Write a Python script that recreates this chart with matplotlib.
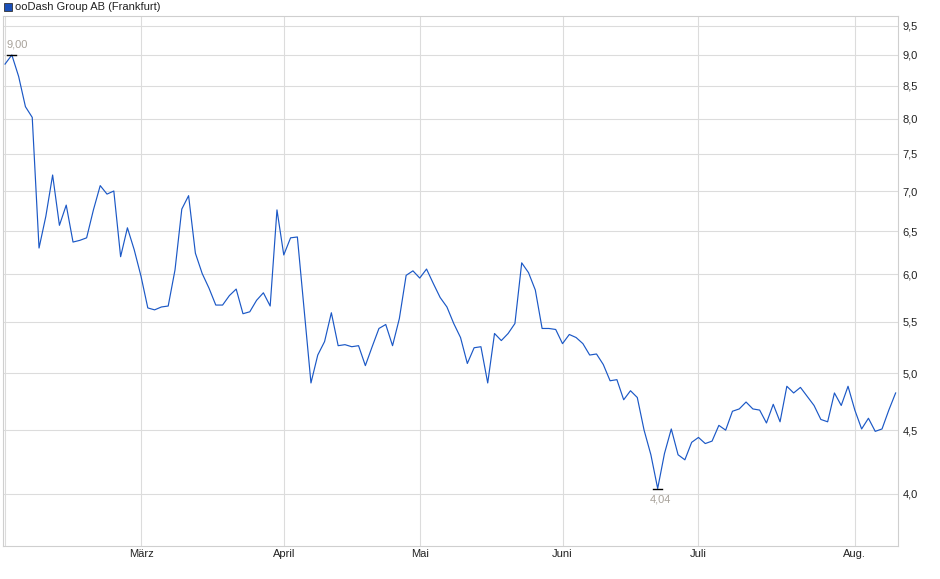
import numpy as np
import matplotlib
matplotlib.use("Agg")
import matplotlib.pyplot as plt
from matplotlib.ticker import FixedLocator, NullLocator
from matplotlib.patches import Rectangle

plt.rcParams['font.family'] = ['Liberation Sans', 'DejaVu Sans']

# daily closing prices (one value per trading day)
prices = [
    8.85, 9.00, 8.65, 8.18, 8.02, 6.30, 6.68, 7.21, 6.57, 6.82,
    6.37, 6.39, 6.42, 6.76, 7.07, 6.96, 7.00, 6.20, 6.54, 6.28,
    5.98, 5.64, 5.62, 5.65, 5.66, 6.05, 6.77, 6.94, 6.24, 6.01,
    5.85, 5.67, 5.67, 5.77, 5.84, 5.58, 5.60, 5.72, 5.80, 5.66,
    6.76, 6.22, 6.42, 6.43, 5.62, 4.91, 5.17, 5.30, 5.59, 5.26,
    5.27, 5.25, 5.26, 5.07, 5.25, 5.43, 5.47, 5.26, 5.53, 5.99,
    6.04, 5.96, 6.06, 5.90, 5.75, 5.65, 5.48, 5.34, 5.09, 5.24,
    5.25, 4.91, 5.38, 5.31, 5.38, 5.48, 6.13, 6.02, 5.83, 5.43,
    5.43, 5.42, 5.28, 5.37, 5.34, 5.28, 5.17, 5.18, 5.08, 4.93,
    4.94, 4.76, 4.84, 4.78, 4.50, 4.30, 4.04, 4.31, 4.51, 4.30,
    4.26, 4.40, 4.44, 4.39, 4.41, 4.54, 4.50, 4.66, 4.68, 4.74,
    4.68, 4.67, 4.56, 4.72, 4.57, 4.88, 4.82, 4.87, 4.79, 4.71,
    4.59, 4.57, 4.82, 4.71, 4.88, 4.67, 4.51, 4.60, 4.49, 4.51,
    4.67, 4.82,
]

# index of the first trading day of each month
month_idx = [0, 20, 41, 61, 82, 102, 125]
month_labels = ['', 'März', 'April', 'Mai', 'Juni', 'Juli', 'Aug.']

y_ticks = [4.0, 4.5, 5.0, 5.5, 6.0, 6.5, 7.0, 7.5, 8.0, 8.5, 9.0, 9.5]
title = 'ooDash Group AB (Frankfurt)'

line_color = '#1b58c6'
grid_color = '#dcdcdc'
label_grey = '#a8a29a'

x = np.arange(len(prices))
fig = plt.figure(figsize=(9.40, 5.79), dpi=100)
ax = fig.add_axes([3 / 940, 33 / 579, 895 / 940, 530 / 579])

ax.plot(x, prices, color=line_color, linewidth=0.85, zorder=3)

ax.set_yscale('log')
ax.set_ylim(3.633, 9.672)
ax.set_xlim(-0.3, len(prices) - 1 + 0.35)

ax.yaxis.set_major_locator(FixedLocator(y_ticks))
ax.yaxis.set_minor_locator(NullLocator())
ax.set_yticklabels([f'{v:.1f}'.replace('.', ',') for v in y_ticks])
ax.yaxis.tick_right()
ax.xaxis.set_major_locator(FixedLocator(month_idx))
ax.xaxis.set_minor_locator(NullLocator())
ax.set_xticklabels(month_labels)

ax.tick_params(axis='both', length=0, labelsize=8, colors='#222222')
ax.tick_params(axis='y', pad=3.5)
ax.tick_params(axis='x', pad=2)

ax.grid(True, color=grid_color, linewidth=0.8, zorder=0)
for s in ax.spines.values():
    s.set_color('#cfcfcf')
    s.set_linewidth(0.8)

# max / min markers
i_max = int(np.argmax(prices))
i_min = int(np.argmin(prices))
for i, dx, dy, va in [(i_max, 4, 4, 'bottom'), (i_min, 2, -4, 'top')]:
    ax.plot([i - 0.65, i + 0.65], [prices[i], prices[i]], color='black',
            linewidth=1.0, zorder=4)
    ax.annotate(f'{prices[i]:.2f}'.replace('.', ','), (i, prices[i]),
                xytext=(dx, dy), textcoords='offset points', ha='center',
                va=va, fontsize=8, color=label_grey)

# legend box at top left
fig.patches.append(Rectangle((4 / 940, 1 - 11 / 579), 8 / 940, 8 / 579,
                             transform=fig.transFigure, facecolor='#1a4fb8',
                             edgecolor='#333333', linewidth=0.6))
fig.text(15 / 940, 1 - 6.5 / 579, title, fontsize=8, va='center',
         ha='left', color='#222222')

fig.savefig('out.png', dpi=100)
